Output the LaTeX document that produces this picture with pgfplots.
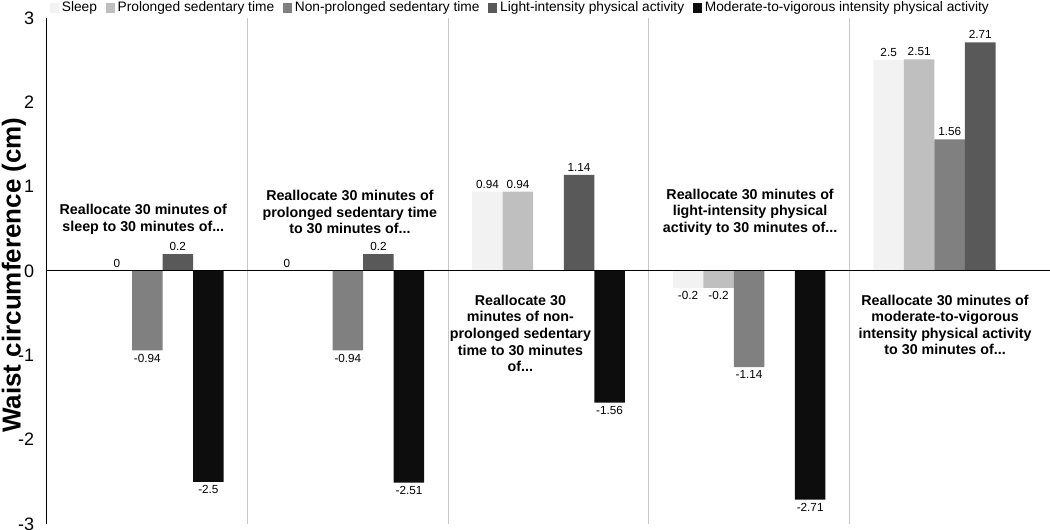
\documentclass[border=0pt]{standalone}
\usepackage{fontspec}
\setmainfont{Liberation Sans}
\usepackage{pgfplots}
\pgfplotsset{compat=1.18}
\definecolor{cSleep}{HTML}{F2F2F2}
\definecolor{cProl}{HTML}{BFBFBF}
\definecolor{cNonp}{HTML}{808080}
\definecolor{cLight}{HTML}{595959}
\definecolor{cMvpa}{HTML}{0D0D0D}
\definecolor{sepgray}{HTML}{C8C8C8}
\begin{document}
\begin{tikzpicture}
\useasboundingbox (-35.25pt,-4.5pt) rectangle (752.25pt,393pt);
\begin{axis}[
 at={(0,0)}, anchor=south west,
 scale only axis, width=752.25pt, height=379.5pt,
 xmin=-0.5, xmax=4.5, ymin=-3, ymax=3,
 ybar=0pt, bar width=22.9pt,
 axis x line*=middle, axis y line*=left,
 axis line style={-, black, line width=0.75pt},
 axis on top,
 xtick=\empty,
 ytick={-3,-2,-1,0,1,2,3}, yticklabels={-3,-2,-1,0,1,2,3},
 major tick length=0pt,
 yticklabel style={font=\fontsize{13.5pt}{15pt}\selectfont, inner sep=0pt, xshift=-9.5pt},
 ylabel={Waist circumference (cm)},
 ylabel style={font=\fontsize{19.5pt}{22pt}\selectfont\bfseries, at={(axis description cs:-0.033,0.492)}, anchor=center},
 legend style={at={(axis description cs:0.4716,1.0198)}, anchor=center, draw=none, fill=none,
   font=\fontsize{10.3pt}{12pt}\selectfont, inner sep=0pt,
   nodes={inner sep=1pt},
   /tikz/every even column/.append style={column sep=5.5pt},
   /tikz/every odd column/.append style={column sep=1.2pt}},
 legend columns=-1,
 legend image code/.code={\fill[#1] (0pt,-3.4pt) rectangle (6.8pt,3.4pt);},
 point meta=explicit symbolic,
 visualization depends on={y \as \rawy},
 nodes near coords,
 nodes near coords style={font=\fontsize{8.8pt}{10pt}\selectfont, inner sep=2.5pt, text=black,
   /utils/exec={\ifdim\rawy pt<0pt \def\myanchor{north}\else\def\myanchor{south}\fi},
   anchor=\myanchor},
]
\draw[sepgray, line width=0.75pt] (axis cs:0.5,-3) -- (axis cs:0.5,3);
\draw[sepgray, line width=0.75pt] (axis cs:1.5,-3) -- (axis cs:1.5,3);
\draw[sepgray, line width=0.75pt] (axis cs:2.5,-3) -- (axis cs:2.5,3);
\draw[sepgray, line width=0.75pt] (axis cs:3.5,-3) -- (axis cs:3.5,3);

\addplot[fill=cSleep, draw=none] coordinates {(1,0)[0] (2,0.94)[0.94] (3,-0.2)[-0.2] (4,2.5)[2.5]};
\addplot[fill=cProl, draw=none] coordinates {(0,0)[0] (2,0.94)[0.94] (3,-0.2)[-0.2] (4,2.51)[2.51]};
\addplot[fill=cNonp, draw=none] coordinates {(0,-0.94)[-0.94] (1,-0.94)[-0.94] (3,-1.14)[-1.14] (4,1.56)[1.56]};
\addplot[fill=cLight, draw=none] coordinates {(0,0.2)[0.2] (1,0.2)[0.2] (2,1.14)[1.14] (4,2.71)[2.71]};
\addplot[fill=cMvpa, draw=none] coordinates {(0,-2.5)[-2.5] (1,-2.51)[-2.51] (2,-1.56)[-1.56] (3,-2.71)[-2.71]};
\legend{Sleep, Prolonged sedentary time, Non-prolonged sedentary time, Light-intensity physical activity, Moderate-to-vigorous intensity physical activity}

\begin{scope}[every node/.style={align=center, font=\fontsize{10.7pt}{12.4pt}\selectfont\bfseries}]
\node at (axis cs:-0.02,0.61) {Reallocate 30 minutes of\\sleep to 30 minutes of...};
\node at (axis cs:1.01,0.70) {Reallocate 30 minutes of\\prolonged sedentary time\\to 30 minutes of...};
\node at (axis cs:1.86,-0.74) {Reallocate 30\\minutes of non-\\prolonged sedentary\\time to 30 minutes\\of...};
\node at (axis cs:3.005,0.70) {Reallocate 30 minutes of\\light-intensity physical\\activity to 30 minutes of...};
\node at (axis cs:3.977,-0.64) {Reallocate 30 minutes of\\moderate-to-vigorous\\intensity physical activity\\to 30 minutes of...};
\end{scope}
\end{axis}
\end{tikzpicture}
\end{document}
